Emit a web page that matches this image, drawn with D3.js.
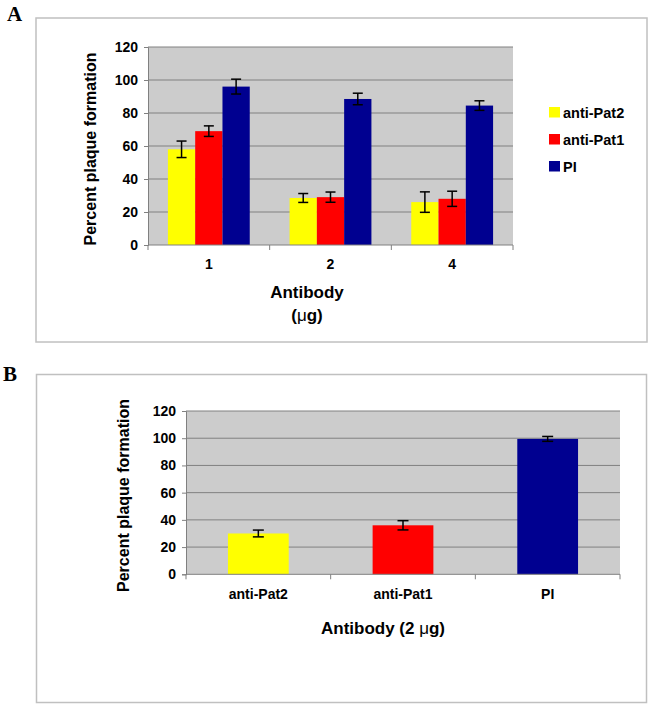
<!DOCTYPE html>
<html>
<head>
<meta charset="utf-8">
<script src="https://cdn.jsdelivr.net/npm/d3@7"></script>
<style>
  html, body { margin: 0; padding: 0; background: #fff; }
  svg { display: block; }
  text { font-family: "Liberation Sans", Arial, sans-serif; fill: #000; }
</style>
</head>
<body>
<svg id="chart" width="652" height="707"></svg>
<script>
// ---- Data ----
const seriesNames = ["anti-Pat2", "anti-Pat1", "PI"];
const seriesColors = ["#FFFF00", "#FF0000", "#000090"];

const categoriesA = ["1", "2", "4"];
const antiPat2A = [58, 28.5, 26];
const antiPat1A = [69, 29, 28];
const piA = [96, 88.5, 84.5];
const antiPat2ErrA = [5, 2.7, 6.2];
const antiPat1ErrA = [3.2, 3.1, 4.6];
const piErrA = [4.5, 3.5, 2.9];

const categoriesB = ["anti-Pat2", "anti-Pat1", "PI"];
const valuesB = [30, 36, 99.5];
const errB = [2.5, 3.4, 1.8];

const yTicks = [0, 20, 40, 60, 80, 100, 120];
const yTitle = "Percent plaque formation";

// ---- Drawing ----
const svg = d3.select("#chart");
const GRID = "#808080";
const BOX = "#c0c0c0";

function panelFrame(x0, y0, x1, y1, label, lx, ly) {
  svg.append("rect").attr("x", x0).attr("y", y0)
    .attr("width", x1 - x0).attr("height", y1 - y0)
    .attr("fill", "#fff").attr("stroke", BOX).attr("stroke-width", 1.5);
  svg.append("text").attr("x", lx).attr("y", ly).text(label)
    .style("font-family", "'Liberation Serif', 'Times New Roman', serif")
    .style("font-weight", "bold").style("font-size", "21px");
}

function plotArea(g, x, y, w, h, tickFont) {
  g.append("rect").attr("x", 0).attr("y", 0).attr("width", w).attr("height", h)
    .attr("fill", "#cccccc");
  // gridlines
  g.selectAll(".grid").data(yTicks.filter(t => t > 0)).enter().append("line")
    .attr("x1", 0).attr("x2", w).attr("y1", d => y(d)).attr("y2", d => y(d))
    .attr("stroke", GRID).attr("stroke-width", 1);
  // y axis
  const yAxis = d3.axisLeft(y).tickValues(yTicks).tickSize(4).tickPadding(6);
  const ya = g.append("g").call(yAxis);
  ya.select(".domain").attr("stroke", GRID);
  ya.selectAll(".tick line").attr("stroke", GRID);
  ya.selectAll(".tick text").style("font-size", tickFont).style("font-weight", "bold")
    .style("font-family", "'Liberation Sans', Arial, sans-serif").attr("fill", "#000");
}

// ===== Panel A =====
panelFrame(36, 18, 647, 342, "A", 7, 21);
{
  const L = 148, T = 47, W = 365, H = 198;
  const g = svg.append("g").attr("transform", `translate(${L},${T})`);
  const x0 = d3.scaleBand().domain(categoriesA).range([0, W]).padding(0);
  const x1 = d3.scaleBand().domain(seriesNames).range([0, x0.bandwidth()])
    .paddingInner(0).paddingOuter(0.73);
  const y = d3.scaleLinear().domain([0, 120]).range([H, 0]);
  plotArea(g, x0, y, W, H, "14px");

  const vals = [antiPat2A, antiPat1A, piA];
  const errs = [antiPat2ErrA, antiPat1ErrA, piErrA];
  const rows = [];
  categoriesA.forEach((c, i) => seriesNames.forEach((s, j) =>
    rows.push({ c, s, j, v: vals[j][i], e: errs[j][i] })));

  g.selectAll(".bar").data(rows).enter().append("rect")
    .attr("x", d => x0(d.c) + x1(d.s)).attr("width", x1.bandwidth())
    .attr("y", d => y(d.v)).attr("height", d => H - y(d.v))
    .attr("fill", d => seriesColors[d.j]);

  const eb = g.selectAll(".eb").data(rows).enter().append("g")
    .attr("stroke", "#000").attr("stroke-width", 1.5);
  const cx = d => x0(d.c) + x1(d.s) + x1.bandwidth() / 2;
  eb.append("line").attr("x1", cx).attr("x2", cx)
    .attr("y1", d => y(d.v + d.e)).attr("y2", d => y(d.v - d.e));
  eb.append("line").attr("x1", d => cx(d) - 5).attr("x2", d => cx(d) + 5)
    .attr("y1", d => y(d.v + d.e)).attr("y2", d => y(d.v + d.e));
  eb.append("line").attr("x1", d => cx(d) - 5).attr("x2", d => cx(d) + 5)
    .attr("y1", d => y(d.v - d.e)).attr("y2", d => y(d.v - d.e));

  // x axis
  g.append("line").attr("x1", 0).attr("x2", W).attr("y1", H).attr("y2", H)
    .attr("stroke", GRID);
  const bounds = categoriesA.map(c => x0(c)).concat([W]);
  g.selectAll(".xt").data(bounds).enter().append("line")
    .attr("x1", d => d).attr("x2", d => d).attr("y1", H).attr("y2", H + 5)
    .attr("stroke", GRID);
  g.selectAll(".xl").data(categoriesA).enter().append("text")
    .attr("x", d => x0(d) + x0.bandwidth() / 2).attr("y", H + 23.5)
    .attr("text-anchor", "middle").style("font-size", "14px").style("font-weight", "bold")
    .text(d => d);

  // titles
  svg.append("text").attr("x", 307).attr("y", 298)
    .attr("text-anchor", "middle").style("font-size", "17px").style("font-weight", "bold")
    .text("Antibody");
  const mu = svg.append("text").attr("x", 307).attr("y", 320.5)
    .attr("text-anchor", "middle").style("font-size", "17px").style("font-weight", "bold");
  mu.append("tspan").text("(");
  mu.append("tspan").style("font-weight", "normal").text("μ");
  mu.append("tspan").text("g)");

  svg.append("text").attr("transform", "translate(96,149) rotate(-90)")
    .attr("text-anchor", "middle").style("font-size", "16px").style("font-weight", "bold")
    .text(yTitle);

  // legend
  const lg = svg.append("g").attr("transform", "translate(549,107)");
  const li = lg.selectAll(".li").data(seriesNames).enter().append("g")
    .attr("transform", (d, i) => `translate(0,${i * 27})`);
  li.append("rect").attr("width", 11).attr("height", 10.5)
    .attr("fill", (d, i) => seriesColors[i]);
  li.append("text").attr("x", 14).attr("y", 10.5)
    .style("font-size", "14.5px").style("font-weight", "bold").text(d => d);
}

// ===== Panel B =====
panelFrame(36.5, 374.5, 646.5, 702.5, "B", 3, 380.5);
{
  const L = 186, T = 411, W = 434, H = 163.3;
  const g = svg.append("g").attr("transform", `translate(${L},${T})`);
  const x = d3.scaleBand().domain(categoriesB).range([0, W])
    .paddingInner(0.58).paddingOuter(0.29);
  const y = d3.scaleLinear().domain([0, 120]).range([H, 0]);
  plotArea(g, x, y, W, H, "14px");

  const rows = categoriesB.map((c, i) => ({ c, i, v: valuesB[i], e: errB[i] }));
  g.selectAll(".bar").data(rows).enter().append("rect")
    .attr("x", d => x(d.c)).attr("width", x.bandwidth())
    .attr("y", d => y(d.v)).attr("height", d => H - y(d.v))
    .attr("fill", d => seriesColors[d.i]);

  const cx = d => x(d.c) + x.bandwidth() / 2;
  const eb = g.selectAll(".eb").data(rows).enter().append("g")
    .attr("stroke", "#000").attr("stroke-width", 1.5);
  eb.append("line").attr("x1", cx).attr("x2", cx)
    .attr("y1", d => y(d.v + d.e)).attr("y2", d => y(d.v - d.e));
  eb.append("line").attr("x1", d => cx(d) - 5.5).attr("x2", d => cx(d) + 5.5)
    .attr("y1", d => y(d.v + d.e)).attr("y2", d => y(d.v + d.e));
  eb.append("line").attr("x1", d => cx(d) - 5.5).attr("x2", d => cx(d) + 5.5)
    .attr("y1", d => y(d.v - d.e)).attr("y2", d => y(d.v - d.e));

  g.append("line").attr("x1", 0).attr("x2", W).attr("y1", H).attr("y2", H)
    .attr("stroke", GRID);
  const step = x.step();
  const bounds = d3.range(categoriesB.length + 1).map(i => i * step);
  g.selectAll(".xt").data(bounds).enter().append("line")
    .attr("x1", d => d).attr("x2", d => d).attr("y1", H).attr("y2", H + 5)
    .attr("stroke", GRID);
  g.selectAll(".xl").data(categoriesB).enter().append("text")
    .attr("x", d => x(d) + x.bandwidth() / 2).attr("y", H + 25)
    .attr("text-anchor", "middle").style("font-size", "14px").style("font-weight", "bold")
    .text(d => d);

  const t = svg.append("text").attr("x", 383).attr("y", 634)
    .attr("text-anchor", "middle").style("font-size", "17px").style("font-weight", "bold");
  t.append("tspan").text("Antibody (2 ");
  t.append("tspan").style("font-weight", "normal").text("μ");
  t.append("tspan").text("g)");

  svg.append("text").attr("transform", "translate(128.5,495.5) rotate(-90)")
    .attr("text-anchor", "middle").style("font-size", "16px").style("font-weight", "bold")
    .text(yTitle);
}
</script>
</body>
</html>
